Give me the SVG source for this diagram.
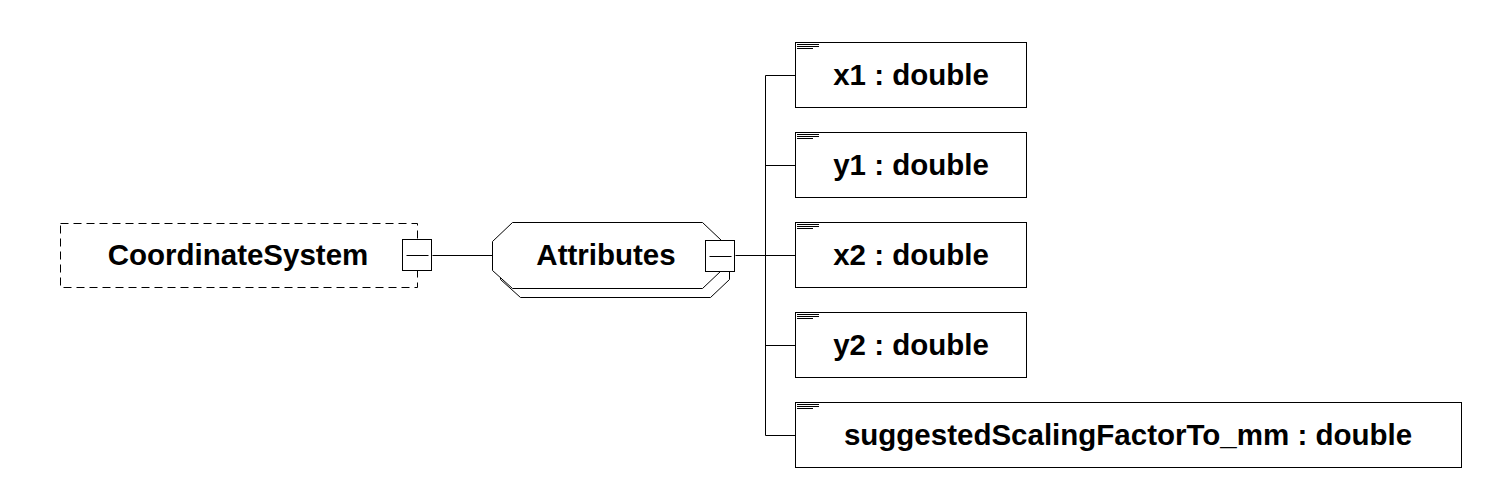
<svg xmlns="http://www.w3.org/2000/svg" width="1491" height="480" viewBox="0 0 1491 480">
<style>
.b{fill:#fff;stroke:#000;stroke-width:1}
.l{fill:none;stroke:#000;stroke-width:1}
.t{font-family:"Liberation Sans",Arial,sans-serif;font-weight:bold;font-size:29.5px;fill:#000;text-anchor:middle}
</style>
<defs>
<g id="ic"><path d="M2 2.5h22M2 4.5h22M2 6.5h16" stroke="#000" stroke-width="1"/></g>
</defs>
<rect width="1491" height="480" fill="#fff"/>
<g id="connectors">
<path class="l" d="M432.5 255.5H492.5"/>
<path class="l" d="M735.5 255.5H795.5"/>
<path class="l" d="M765.5 75.5V435.5"/>
<path class="l" d="M765.5 75.5H795.5M765.5 165.5H795.5M765.5 345.5H795.5M765.5 435.5H795.5"/>
</g>
<g id="CoordinateSystem">
<rect x="60.5" y="223.5" width="357" height="64" fill="#fff" stroke="#000" stroke-dasharray="8,5"/>
<text class="t" x="238" y="265">CoordinateSystem</text>
<rect class="b" x="402.5" y="239.5" width="29" height="31"/>
<path class="l" d="M406.5 255.5H428.5"/>
</g>
<g id="Attributes">
<path class="b" d="M520.5 297.5L500.5 279.5V250.5L520.5 231.5H710.5L729.5 249.5V279.5L710.5 297.5Z"/>
<path class="b" d="M512.5 288.5L492.5 270.5V241.5L512.5 222.5H702.5L721.5 240.5V270.5L702.5 288.5Z"/>
<text class="t" x="606" y="265">Attributes</text>
<rect class="b" x="705.5" y="240.5" width="29" height="31"/>
<path class="l" d="M709.5 256.5H731.5"/>
</g>
<g id="x1">
<rect class="b" x="795.5" y="42.5" width="231" height="65"/>
<use href="#ic" x="795" y="42"/>
<text class="t" x="911" y="85">x1 : double</text>
</g>
<g id="y1">
<rect class="b" x="795.5" y="132.5" width="231" height="65"/>
<use href="#ic" x="795" y="132"/>
<text class="t" x="911" y="175">y1 : double</text>
</g>
<g id="x2">
<rect class="b" x="795.5" y="222.5" width="231" height="65"/>
<use href="#ic" x="795" y="222"/>
<text class="t" x="911" y="265">x2 : double</text>
</g>
<g id="y2">
<rect class="b" x="795.5" y="312.5" width="231" height="65"/>
<use href="#ic" x="795" y="312"/>
<text class="t" x="911" y="355">y2 : double</text>
</g>
<g id="suggestedScalingFactorTo_mm">
<rect class="b" x="795.5" y="402.5" width="666" height="65"/>
<use href="#ic" x="795" y="402"/>
<text class="t" x="1128" y="445">suggestedScalingFactorTo_mm : double</text>
</g>
</svg>
